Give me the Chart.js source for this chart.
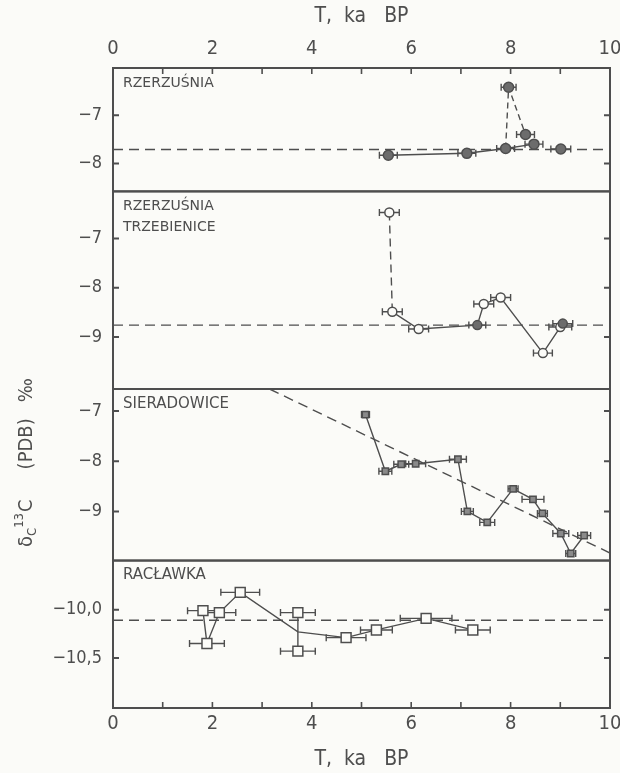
<!DOCTYPE html>
<html>
<head>
<meta charset="utf-8">
<script src="https://cdn.jsdelivr.net/npm/chart.js@4/dist/chart.umd.min.js"></script>
<style>
  html, body { margin: 0; padding: 0; background: #fbfbf8; }
  #chart { display: block; }
</style>
</head>
<body>
<canvas id="chart" width="620" height="773"></canvas>
<script>
// axis ticks
const xTicks = [0, 2, 4, 6, 8, 10];
const y1Ticks = [-7, -8];
const y2Ticks = [-7, -8, -9];
const y3Ticks = [-7, -8, -9];
const y4Ticks = [-10.0, -10.5];

// RZERZUŚNIA
const rzT = [5.54, 7.12, 7.90, 7.96, 8.30, 8.47, 9.01];
const rzD = [-7.83, -7.79, -7.69, -6.42, -7.40, -7.60, -7.70];
const rzErr = [0.18, 0.18, 0.18, 0.15, 0.18, 0.18, 0.2];
const rzSolid = [0, 1, 2, 5];
const rzDashed = [2, 3, 4, 5];
const rzRef = -7.71;

// RZERZUŚNIA / TRZEBIENICE
const rtT = [5.56, 5.62, 6.15, 7.33, 7.46, 7.80, 8.65, 9.00, 9.05];
const rtD = [-6.47, -8.49, -8.84, -8.76, -8.33, -8.20, -9.33, -8.80, -8.73];
const rtErr = [0.2, 0.2, 0.2, 0.17, 0.2, 0.2, 0.19, 0.23, 0.2];
const rtFilled = [false, false, false, true, false, false, false, false, true];
const rtSolid = [1, 2, 3, 4, 5, 6, 7];
const rtDashed = [0, 1];
const rtRef = -8.76;

// SIERADOWICE
const sdT = [5.08, 5.48, 5.80, 6.09, 6.94, 7.13, 7.53, 8.05, 8.45, 8.64, 9.01, 9.21, 9.48];
const sdD = [-7.07, -8.20, -8.06, -8.05, -7.96, -9.00, -9.22, -8.55, -8.76, -9.04, -9.44, -9.84, -9.48];
const sdErr = [0.08, 0.13, 0.15, 0.2, 0.17, 0.12, 0.15, 0.1, 0.22, 0.1, 0.16, 0.1, 0.13];
const sdTrendT = [3.15, 10];
const sdTrendD = [-6.56, -9.83];

// RACŁAWKA
const rcT = [1.81, 1.89, 2.14, 2.56, 3.72, 3.72, 4.69, 5.30, 6.30, 7.24];
const rcD = [-10.01, -10.35, -10.03, -9.82, -10.03, -10.43, -10.29, -10.21, -10.09, -10.21];
const rcErr = [0.31, 0.35, 0.33, 0.39, 0.35, 0.35, 0.4, 0.32, 0.52, 0.35];
const rcPathT = [1.81, 1.89, 2.14, 2.56, 3.72, 4.69, 5.30, 6.30, 7.24];
const rcPathD = [-10.01, -10.35, -10.03, -9.82, -10.23, -10.29, -10.21, -10.09, -10.21];
const rcSplitT = [3.72, 3.72];
const rcSplitD = [-10.03, -10.43];
const rcRef = -10.11;

const panelNames = [['RZERZUŚNIA'], ['RZERZUŚNIA', 'TRZEBIENICE'], ['SIERADOWICE'], ['RACŁAWKA']];

const ink = '#4e4e4e';
const paper = '#fbfbf8';
const numFont = "'DejaVu Sans Condensed', 'DejaVu Sans', sans-serif";
const txtFont = "'DejaVu Sans', sans-serif";

const pts = (xs, ys, idx) => (idx || xs.map((_, i) => i)).map(i => ({ x: xs[i], y: ys[i] }));
const hline = v => [{ x: 0, y: v }, { x: 10, y: v }];

function markers(axis, xs, ys, errs, style, radius, fill) {
  return {
    yAxisID: axis, data: pts(xs, ys), xErr: errs, showLine: false, order: 0,
    pointStyle: style, pointRadius: radius, pointBackgroundColor: fill,
    pointBorderColor: ink, pointBorderWidth: 1.5
  };
}
function path(axis, data, dash) {
  return {
    yAxisID: axis, data: data, showLine: true, pointRadius: 0, order: 1,
    borderColor: ink, borderWidth: 1.4, borderDash: dash || []
  };
}

const datasets = [
  markers('y1', rzT, rzD, rzErr, 'circle', 5, '#6c6c6c'),
  markers('y2', rtT, rtD, rtErr, 'circle', 4.5, rtFilled.map(f => f ? '#6c6c6c' : paper)),
  markers('y3', sdT, sdD, sdErr, 'rect', 4.5, '#8a8a8a'),
  markers('y4', rcT, rcD, rcErr, 'rect', 7, paper),
  path('y1', pts(rzT, rzD, rzSolid)),
  path('y1', pts(rzT, rzD, rzDashed), [6, 4]),
  path('y1', hline(rzRef), [10, 6]),
  path('y2', pts(rtT, rtD, rtSolid)),
  path('y2', pts(rtT, rtD, rtDashed), [8, 5]),
  path('y2', hline(rtRef), [10, 6]),
  path('y3', pts(sdT, sdD)),
  path('y3', pts(sdTrendT, sdTrendD), [10, 6]),
  path('y4', pts(rcPathT, rcPathD)),
  path('y4', pts(rcSplitT, rcSplitD)),
  path('y4', hline(rcRef), [10, 6])
];

const minus = v => (v < 0 ? '\u2212' : '') + Math.abs(v);
function yScale(ticks, min, max, weight, fmt) {
  return {
    type: 'linear', position: 'left', stack: 'panels', stackWeight: weight,
    min: min, max: max,
    grid: { display: false, drawTicks: false }, border: { display: false },
    afterBuildTicks: s => { s.ticks = ticks.map(v => ({ value: v })); },
    afterFit: s => { s.width = 113; s.paddingTop = 0; s.paddingBottom = 0; },
    ticks: { color: ink, padding: 11, font: { family: numFont, size: 18 }, callback: fmt || minus }
  };
}
function xScale(pos, height, pad) {
  return {
    type: 'linear', position: pos, min: 0, max: 10,
    grid: { display: false, drawTicks: false }, border: { display: false },
    afterBuildTicks: s => { s.ticks = xTicks.map(v => ({ value: v })); },
    afterFit: s => { s.height = height; s.paddingLeft = 0; s.paddingRight = 0; },
    ticks: { color: ink, padding: pad, font: { family: numFont, size: 20 }, callback: v => String(v) },
    title: {
      display: true, text: 'T,  ka   BP', color: ink,
      font: { family: numFont, size: 21 }, padding: { top: 4, bottom: 1 }
    }
  };
}

const panelPlugin = {
  id: 'panels',
  beforeDraw(chart) {
    const ctx = chart.ctx;
    ctx.save();
    ctx.fillStyle = paper;
    ctx.fillRect(0, 0, chart.width, chart.height);
    ctx.restore();
  },
  beforeDatasetsDraw(chart) {
    const ctx = chart.ctx;
    ctx.save();
    ctx.strokeStyle = ink;
    ctx.lineWidth = 1.4;
    chart.data.datasets.forEach((ds, i) => {
      if (!ds.xErr) return;
      const meta = chart.getDatasetMeta(i);
      const xs = meta.xScale;
      meta.data.forEach((pt, j) => {
        const e = ds.xErr[j];
        const x0 = xs.getPixelForValue(ds.data[j].x - e);
        const x1 = xs.getPixelForValue(ds.data[j].x + e);
        ctx.beginPath();
        ctx.moveTo(x0, pt.y); ctx.lineTo(x1, pt.y);
        ctx.moveTo(x0, pt.y - 3.5); ctx.lineTo(x0, pt.y + 3.5);
        ctx.moveTo(x1, pt.y - 3.5); ctx.lineTo(x1, pt.y + 3.5);
        ctx.stroke();
      });
    });
    ctx.restore();
  },
  afterDraw(chart) {
    const ctx = chart.ctx;
    const a = chart.chartArea;
    const xs = chart.scales.x;
    const ys = ['y1', 'y2', 'y3', 'y4'].map(k => chart.scales[k]);
    ctx.save();
    ctx.strokeStyle = ink;
    ctx.lineWidth = 2;
    ys.forEach(s => {
      ctx.strokeRect(a.left, s.top, a.right - a.left, s.bottom - s.top);
      ctx.beginPath();
      s.ticks.forEach(t => {
        const y = s.getPixelForValue(t.value);
        ctx.moveTo(a.left, y); ctx.lineTo(a.left + 6, y);
        ctx.moveTo(a.right, y); ctx.lineTo(a.right - 6, y);
      });
      ctx.stroke();
    });
    ctx.lineWidth = 1.6;
    ctx.beginPath();
    for (let v = xs.min + 1; v < xs.max; v++) {
      const x = xs.getPixelForValue(v);
      ctx.moveTo(x, ys[0].top); ctx.lineTo(x, ys[0].top + 6);
      ctx.moveTo(x, ys[3].bottom); ctx.lineTo(x, ys[3].bottom - 6);
    }
    ctx.stroke();

    // panel names
    ctx.fillStyle = ink;
    ctx.textBaseline = 'middle';
    ctx.textAlign = 'left';
    const nameSize = [14, 14, 15, 15];
    panelNames.forEach((lines, i) => {
      ctx.font = nameSize[i] + 'px ' + txtFont;
      lines.forEach((ln, k) => ctx.fillText(ln, a.left + 10, ys[i].top + 15 + k * 21));
    });

    // y title: δC13C (PDB) ‰
    ctx.translate(27, 547);
    ctx.rotate(-Math.PI / 2);
    const parts = [['\u03b4', 20, 0, 0], ['C', 13, 6, 0], ['13', 13, -7, 1], ['C', 20, 0, 30], ['(PDB)', 20, 0, 16], ['\u2030', 20, 0, 0]];
    let pos = 0;
    parts.forEach(([t, size, dy, gap]) => {
      ctx.font = size + 'px ' + numFont;
      ctx.fillText(t, pos, dy);
      pos += ctx.measureText(t).width + gap;
    });
    ctx.restore();
  }
};

new Chart(document.getElementById('chart'), {
  type: 'scatter',
  data: { datasets: datasets },
  options: {
    responsive: false,
    animation: false,
    layout: { padding: { left: 0, right: 10, top: 0, bottom: 0 } },
    plugins: { legend: { display: false }, tooltip: { enabled: false } },
    scales: {
      x: xScale('bottom', 65, 4),
      xTop: xScale('top', 68, 7),
      y4: yScale(y4Ticks, -11.02, -9.49, 147, v => '\u2212' + Math.abs(v).toFixed(1).replace('.', ',')),
      y3: yScale(y3Ticks, -9.98, -6.56, 171),
      y2: yScale(y2Ticks, -10.06, -6.04, 197),
      y1: yScale(y1Ticks, -8.58, -6.02, 123)
    }
  },
  plugins: [panelPlugin]
});
</script>
</body>
</html>
